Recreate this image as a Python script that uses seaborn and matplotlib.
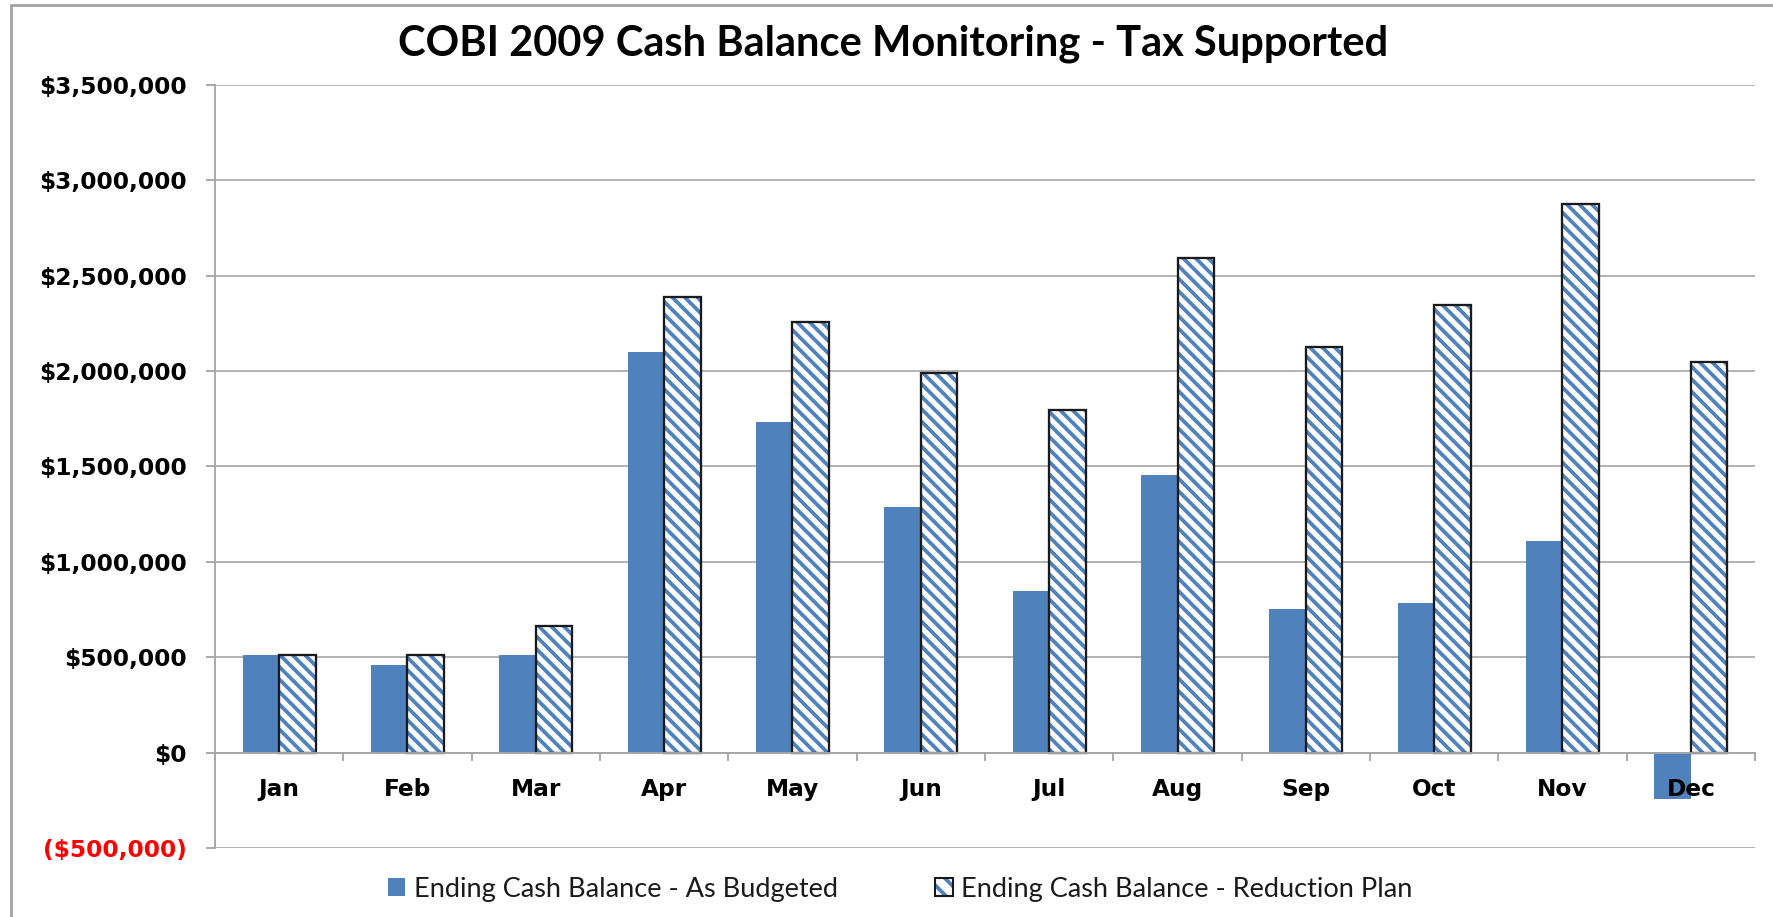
import numpy as np
import pandas as pd
import matplotlib
matplotlib.use("Agg")
import matplotlib.pyplot as plt
import seaborn as sns
from matplotlib.patches import Patch, Rectangle
from matplotlib.legend_handler import HandlerTuple
from matplotlib.lines import Line2D

# ---- data ----
months = ["Jan", "Feb", "Mar", "Apr", "May", "Jun", "Jul", "Aug", "Sep", "Oct", "Nov", "Dec"]
as_budgeted = [510000, 460000, 510000, 2100000, 1735000, 1290000, 847000, 1458000, 752000, 782000, 1107000, -242000]
reduction_plan = [510000, 510000, 665000, 2386000, 2256000, 1990000, 1795000, 2595000, 2127000, 2345000, 2874000, 2048000]
series_names = ["Ending Cash Balance - As Budgeted", "Ending Cash Balance - Reduction Plan"]
yticks = [-500000, 0, 500000, 1000000, 1500000, 2000000, 2500000, 3000000, 3500000]
title = "COBI 2009 Cash Balance Monitoring - Tax Supported"

BLUE = "#4F81BD"
GRID = "#A6A6A6"
DPI = 150
W, H = 1773, 917
HATCH = "\\" * 4

df = pd.DataFrame({
    "Month": months * 2,
    "Series": [series_names[0]] * len(months) + [series_names[1]] * len(months),
    "Value": as_budgeted + reduction_plan,
})

sns.set_theme(style="white")
plt.rcParams["hatch.linewidth"] = 1.8

fig = plt.figure(figsize=(W / DPI, H / DPI), dpi=DPI)
ax = fig.add_axes([215 / W, 1 - 848 / H, (1755 - 215) / W, (848 - 85) / H])

sns.barplot(data=df, x="Month", y="Value", hue="Series", order=months,
            hue_order=series_names, palette=[BLUE, "white"], saturation=1,
            width=0.57, dodge=True, legend=False, ax=ax, zorder=2)

# style bars
for p in ax.containers[0]:
    p.set_facecolor(BLUE)
    p.set_edgecolor("none")
    p.set_linewidth(0)
    p.set_zorder(2)
for p in ax.containers[1]:
    p.set_facecolor("white")
    p.set_edgecolor(BLUE)
    p.set_hatch(HATCH)
    p.set_linewidth(0)
    p.set_zorder(2)
    ax.add_patch(Rectangle(p.get_xy(), p.get_width(), p.get_height(),
                           fill=False, edgecolor="#1a1a1a", linewidth=1.1, zorder=2.2))

ax.set_xlim(-0.5, len(months) - 0.5)
ax.set_ylim(yticks[0], yticks[-1])
ax.set_yticks(yticks)

def fmt(v):
    return f"${v:,.0f}" if v >= 0 else f"(${-v:,.0f})"

ax.set_yticklabels([fmt(v) for v in yticks])
for lab, v in zip(ax.get_yticklabels(), yticks):
    lab.set_color("red" if v < 0 else "black")
    lab.set_fontweight("bold")
    lab.set_fontsize(11.2)
    lab.set_family("DejaVu Sans")

# gridlines below bars, axis (with tick labels) above bars
ax.grid(False)
ax.set_axisbelow(False)
for v in yticks:
    ax.axhline(v, color=GRID, linewidth=0.8, zorder=0.5)

for s in ["top", "right"]:
    ax.spines[s].set_visible(False)
ax.spines["left"].set_color(GRID)
ax.spines["left"].set_linewidth(0.9)
ax.spines["bottom"].set_position(("data", 0))
ax.spines["bottom"].set_color(GRID)
ax.spines["bottom"].set_linewidth(0.9)

ax.set_xticks(np.arange(-0.5, len(months), 1), minor=True)
ax.tick_params(axis="x", which="minor", length=4, width=0.9, color=GRID, direction="out", bottom=True)
ax.tick_params(axis="x", which="major", length=0, pad=12, labelsize=11.2)
ax.tick_params(axis="y", which="major", length=4.5, width=0.9, color=GRID, direction="out", left=True, pad=9)
for lab in ax.get_xticklabels():
    lab.set_fontweight("bold")
    lab.set_family("DejaVu Sans")
    lab.set_color("black")
ax.set_xlabel("")
ax.set_ylabel("")

# title
fig.text(893 / W, 1 - 44 / H, title, ha="center", va="center",
         fontsize=20, fontweight="bold", family=["Lato", "Open Sans"], color="black")

# legend
h1 = Patch(facecolor=BLUE, edgecolor="none")
h2a = Patch(facecolor="white", edgecolor=BLUE, hatch="\\" * 3, linewidth=0)
h2b = Patch(facecolor="none", edgecolor="#1a1a1a", linewidth=1.0)
leg = fig.legend([h1, (h2a, h2b)], series_names, loc="center",
                 bbox_to_anchor=(900 / W, 1 - 889 / H), ncol=2, frameon=False,
                 handler_map={tuple: HandlerTuple(ndivide=1, pad=0)},
                 handlelength=0.65, handleheight=0.65, handletextpad=0.3,
                 columnspacing=3.6, prop={"family": ["Lato", "Open Sans"], "size": 13})
for t in leg.get_texts():
    t.set_color("#1a1a1a")

# outer chart border (left and top)
fig.add_artist(Line2D([11 / W, 11 / W], [0, 1 - 5 / H], transform=fig.transFigure, color="#A0A0A0", linewidth=1.3))
fig.add_artist(Line2D([11 / W, 1], [1 - 5 / H, 1 - 5 / H], transform=fig.transFigure, color="#A0A0A0", linewidth=1.3))

fig.savefig("out.png", dpi=DPI)
